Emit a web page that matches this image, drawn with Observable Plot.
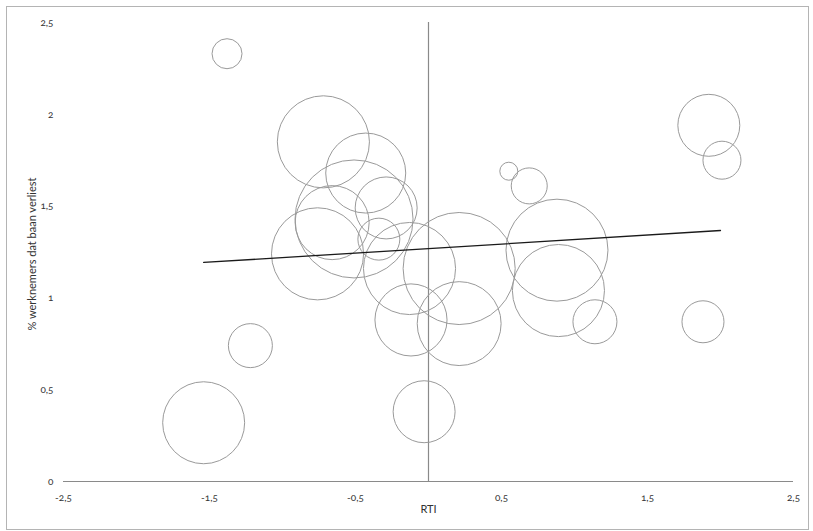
<!DOCTYPE html>
<html>
<head>
<meta charset="utf-8">
<script src="https://cdn.jsdelivr.net/npm/d3@7"></script>
<script src="https://cdn.jsdelivr.net/npm/@observablehq/plot@0.6"></script>
<style>
  html, body { margin: 0; padding: 0; background: #fff; }
  #wrap { position: relative; width: 813px; height: 531px; overflow: hidden; }
  #border { position: absolute; left: 6px; top: 6px; width: 801px; height: 522px; border: 1px solid #b4b4b4; pointer-events: none; }
  svg text { font-variant-numeric: oldstyle-nums; }
</style>
</head>
<body>
<div id="wrap"><div id="border"></div></div>
<script>
// RTI (x), % werknemers dat baan verliest (y), bubble size (relative weight)
const rti      = [-1.38, -0.72, -0.43, -0.51, -0.66, -0.29, -0.34, -0.76, -0.13, 0.21, -0.12, 0.21, -0.03, 0.55, 0.69, 0.88, 0.89, 1.14, 1.88, 1.92, 2.01, -1.22, -1.54];
const baanVerlies = [2.33, 1.85, 1.68, 1.43, 1.41, 1.49, 1.32, 1.24, 1.16, 1.16, 0.88, 0.86, 0.38, 1.69, 1.61, 1.26, 1.04, 0.87, 0.87, 1.94, 1.75, 0.74, 0.32];
const omvang   = [2.25, 21.2, 16.0, 34.8, 13.7, 9.6, 4.4, 21.2, 21.2, 31.4, 13.0, 17.6, 9.6, 0.81, 3.24, 26.0, 21.2, 4.84, 4.41, 9.6, 3.61, 4.84, 16.8];

// Trend line end points
const trendX = [-1.54, 2.0];
const trendY = [1.193, 1.367];

// Ticks
const xTicks = [-2.5, -1.5, -0.5, 0.5, 1.5, 2.5];
const yTicks = [0, 0.5, 1, 1.5, 2, 2.5];
const xLabel = "RTI";
const yLabel = "% werknemers dat baan verliest";

const points = rti.map((x, i) => ({x, y: baanVerlies[i], s: omvang[i]}));
const trend = trendX.map((x, i) => ({x, y: trendY[i]}));
const fmt = d => String(d).replace(".", ",");

const font = "Lato, 'Open Sans', sans-serif";

const chart = Plot.plot({
  width: 813,
  height: 531,
  marginLeft: 63,
  marginRight: 20,
  marginTop: 22,
  marginBottom: 50,
  style: {fontFamily: font, fontSize: "10px", color: "#333", background: "transparent"},
  x: {domain: [-2.5, 2.5]},
  y: {domain: [0, 2.5]},
  r: {type: "sqrt", domain: [0, 36], range: [0, 60]},
  marks: [
    Plot.ruleY([0], {stroke: "#8a8a8a", strokeWidth: 1.2}),
    Plot.ruleX([0], {y1: 0, y2: 2.5, stroke: "#8a8a8a", strokeWidth: 1.2}),
    Plot.dot(points, {x: "x", y: "y", r: "s", stroke: "#9a9a9a", strokeWidth: 1, fill: "none"}),
    Plot.line(trend, {x: "x", y: "y", stroke: "#1a1a1a", strokeWidth: 1.3}),
    Plot.axisX(xTicks, {tickSize: 0, tickPadding: 12, tickFormat: fmt, label: null, fill: "#333"}),
    Plot.axisY(yTicks, {tickSize: 0, tickPadding: 10, tickFormat: fmt, label: null, fill: "#333"}),
    Plot.text([xLabel], {frameAnchor: "bottom", dy: 31, fontSize: 11, fill: "#333", textAnchor: "middle"}),
    Plot.text([yLabel], {frameAnchor: "left", dx: -31, dy: 2, rotate: -90, fontSize: 11, fill: "#333", textAnchor: "middle"})
  ]
});
document.getElementById("wrap").prepend(chart);
</script>
</body>
</html>
